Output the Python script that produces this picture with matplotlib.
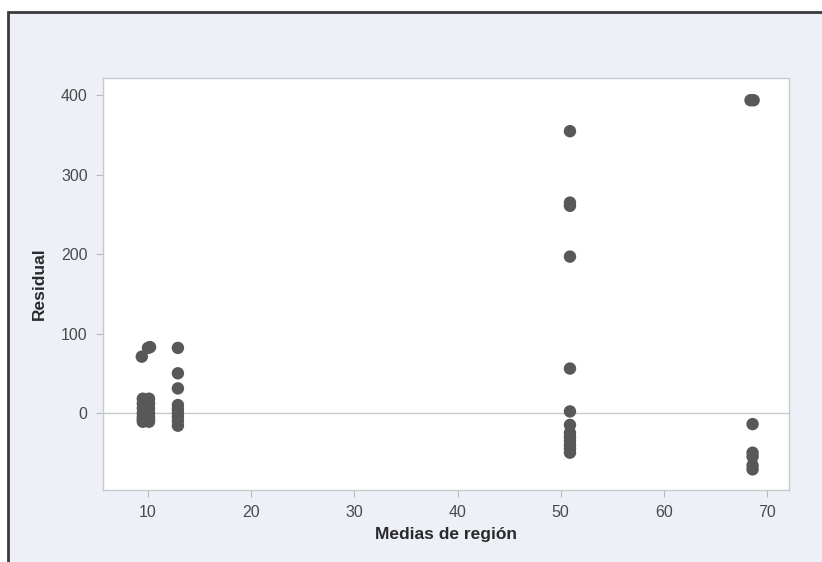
import matplotlib
matplotlib.use("Agg")
import matplotlib.pyplot as plt
from matplotlib.patches import Rectangle

# Data: fitted region means (x) and residuals (y)
g1_x = [9.5, 9.5, 9.5, 9.5, 9.5, 9.5, 9.5, 10.1, 10.1, 10.1, 10.1, 10.1, 10.1, 10.1, 9.4, 10.0, 10.2]
g1_y = [18, 12, 6, 0, -5, -8, -11, 18, 12, 6, 0, -5, -8, -11, 71, 82, 83]
g2_x = [12.9] * 9
g2_y = [82, 50, 31, 10, 5, 0, -5, -10, -16]
g3_x = [50.9] * 13
g3_y = [355, 265, 261, 197, 56, 2, -15, -25, -30, -35, -40, -45, -50]
g4_x = [68.4, 68.7, 68.6, 68.6, 68.6, 68.6, 68.6]
g4_y = [394, 394, -14, -50, -55, -66, -71]

x_vals = g1_x + g2_x + g3_x + g4_x
y_vals = g1_y + g2_y + g3_y + g4_y

xticks = [10, 20, 30, 40, 50, 60, 70]
yticks = [0, 100, 200, 300, 400]

fig = plt.figure(figsize=(8.22, 5.62), dpi=100)
fig.patch.set_facecolor("white")
# outer panel (scanned frame)
frame = Rectangle((8/822, -0.05), 1.1, 1 - 12/562 + 0.05,
                  transform=fig.transFigure, facecolor="#eef0f7",
                  edgecolor="#3a3a3a", linewidth=2.0, zorder=-5)
fig.add_artist(frame)

ax = fig.add_axes([103/822, 1 - 490/562, (789 - 103)/822, (490 - 78)/562])
ax.set_zorder(1)
ax.set_facecolor("white")
ax.scatter(x_vals, y_vals, s=80, color="#585858", edgecolors="none", zorder=3)
ax.axhline(0, color="#c4c8d0", linewidth=1.0, zorder=1)

ax.set_xlim(5.64, 72.13)
ax.set_ylim(-97, 422)
ax.set_xticks(xticks)
ax.set_yticks(yticks)
for s in ax.spines.values():
    s.set_color("#c8cad0")
    s.set_linewidth(1.0)
ax.tick_params(direction="out", length=5, width=0.8, color="#b8bac0",
               labelcolor="#4a4a4a", labelsize=11.5, pad=6)
for lab in ax.get_xticklabels() + ax.get_yticklabels():
    lab.set_fontfamily("Liberation Sans")

ax.set_xlabel("Medias de región", fontsize=12.5, fontweight="bold",
              fontfamily="Liberation Sans", color="#2a2a2a", labelpad=5)
ax.set_ylabel("Residual", fontsize=12.5, fontweight="bold",
              fontfamily="Liberation Sans", color="#2a2a2a", labelpad=10)

fig.savefig("out.png", dpi=100)
